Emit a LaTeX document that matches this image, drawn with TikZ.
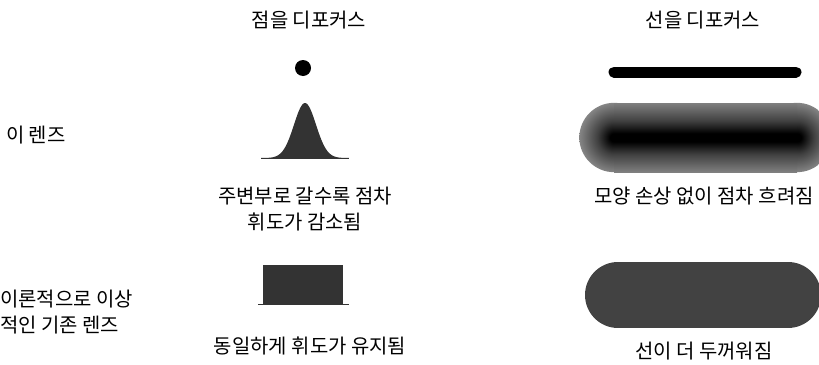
\documentclass[tikz,border=0pt]{standalone}
\usepackage{fontspec}
\setmainfont{Noto Sans CJK KR}
\usepackage{xcolor}
\usepackage{tikz}
\usetikzlibrary{shapes,calc,positioning}

\definecolor{bumpgray}{HTML}{333333}
\definecolor{pillgray}{HTML}{424242}

% blur profile of the defocused line
\pgfdeclareverticalshading{blurline}{100bp}{color(0bp)=(white!86!black); color(12bp)=(white!68!black); color(25bp)=(white!50!black); color(38bp)=(white!25!black); color(47bp)=(black); color(53bp)=(black); color(62bp)=(white!25!black); color(75bp)=(white!50!black); color(88bp)=(white!68!black); color(100bp)=(white!86!black)}
\pgfdeclareradialshading{blurend}{\pgfpoint{0bp}{0bp}}{color(0bp)=(black); color(3bp)=(black); color(12bp)=(white!25!black); color(25bp)=(white!52!black); color(38bp)=(white!74!black); color(50bp)=(white); color(100bp)=(white)}

\begin{document}
\begin{tikzpicture}[x=0.03cm, y=-0.03cm, font=\fontsize{17pt}{22pt}\selectfont]
		\tikzset{note/.style={inner sep=0pt,align=center,text=black}}
		\tikzset{rowtitle/.style={inner sep=0pt,align=left,anchor=west,text=black}}

		\useasboundingbox (0,0) rectangle (819,364);

		% column titles
		\node[note] (pointtitle) at (309,20) {점을 디포커스};
		\node[note] (linetitle) at (703,20) {선을 디포커스};

		% row titles
		\node[rowtitle] (lensrow) at (6,135) {이 렌즈};
		\node[rowtitle] (idealrow) at (0,312) {이론적으로 이상\\적인 기존 렌즈};

		% in-focus point and line
		\node[circle, fill=black, minimum size=0.48cm, inner sep=0pt] (dot) at (303,68) {};
		\coordinate (lineleft) at (614,72);
		\coordinate (lineright) at (796,72);
		\draw[line width=0.33cm, line cap=round] (lineleft) -- (lineright);

		% lens: gaussian fall-off
		\coordinate (bumpbase) at (305,158);
		\fill[bumpgray, shift={(bumpbase)}] plot[domain=-44:44, samples=80, smooth] (\x,{-55*exp(-((\x)^2)/242)}) -- cycle;
		\draw[bumpgray, thick] ($(bumpbase)+(-44,0)$) -- ($(bumpbase)+(44,0)$);

		\shade[shading=blurend] (614,137.5) circle[radius=1.04cm];
		\shade[shading=blurend] (797,137.5) circle[radius=1.04cm];
		\shade[shading=blurline] (614,103) rectangle (797,172);

		\node[note] (bumpnote) at (305,209) {주변부로 갈수록 점차\\휘도가 감소됨};
		\node[note] (blurnote) at (704,196) {모양 손상 없이 점차 흐려짐};

		% ideal lens: flat top
		\fill[bumpgray] (263,265) rectangle (343,304);
		\draw[bumpgray, thick] (258,304) -- (349,304);

		\coordinate (pillleft) at (618,295);
		\coordinate (pillright) at (788,295);
		\draw[pillgray, line width=1.98cm, line cap=round] (pillleft) -- (pillright);

		\node[note] (flatnote) at (310,346) {동일하게 휘도가 유지됨};
		\node[note] (thicknote) at (704,351) {선이 더 두꺼워짐};

	\end{tikzpicture}
\end{document}
